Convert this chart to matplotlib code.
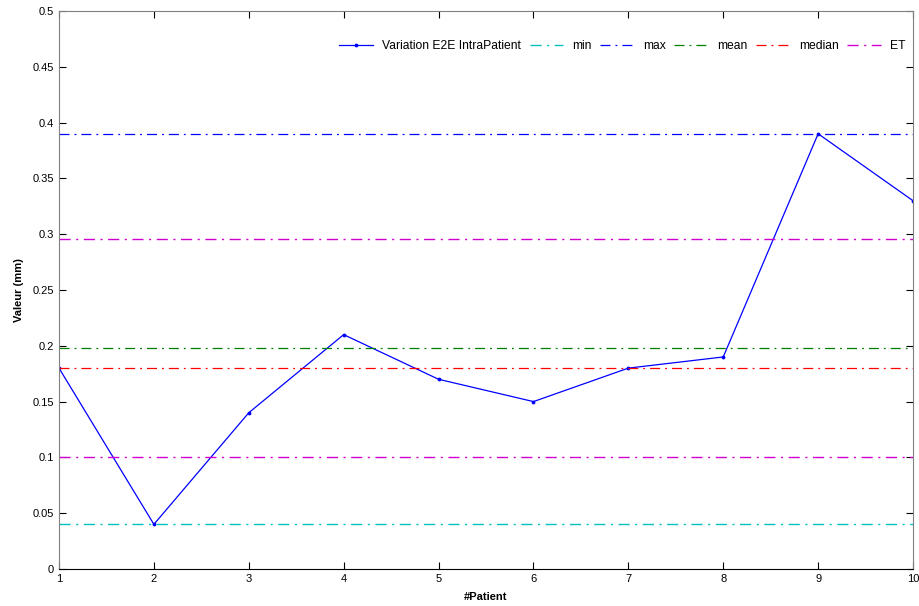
import matplotlib.pyplot as plt
import numpy as np

plt.rcParams['font.family'] = ['Liberation Sans', 'DejaVu Sans']

patients = [1, 2, 3, 4, 5, 6, 7, 8, 9, 10]
variation = [0.18, 0.04, 0.14, 0.21, 0.17, 0.15, 0.18, 0.19, 0.39, 0.33]

val_min = 0.04
val_max = 0.39
val_mean = 0.198
val_median = 0.18
val_et = [0.296, 0.100]

fig = plt.figure(figsize=(9.19, 6.06), dpi=100)
ax = fig.add_axes([0.0642, 0.0611, 0.9293, 0.9207])

ax.plot(patients, variation, '-', color='#0000ff', lw=0.9, marker='.', ms=3.5,
        label='Variation E2E IntraPatient')
dd = (0, (8, 4, 1.5, 4))
ax.axhline(val_min, color='#00c0c0', ls=dd, lw=1.0, label='min')
ax.axhline(val_max, color='#0000ff', ls=dd, lw=0.9, label='max')
ax.axhline(val_mean, color='#008000', ls=dd, lw=0.9, label='mean')
ax.axhline(val_median, color='#ff0000', ls=dd, lw=0.9, label='median')
for i, v in enumerate(val_et):
    ax.axhline(v, color='#d000d0', ls=dd, lw=1.0, label='ET' if i == 0 else None)

ax.set_xlim(1, 10)
ax.set_ylim(0, 0.5)
ax.set_xticks(patients)
ax.set_yticks(np.arange(0, 0.51, 0.05))
ax.set_yticklabels(['0', '0.05', '0.1', '0.15', '0.2', '0.25', '0.3', '0.35', '0.4', '0.45', '0.5'])
ax.tick_params(direction='in', labelsize=8, length=5, top=True, right=True)
for s in ax.spines.values():
    s.set_color('#808080')
    s.set_linewidth(0.8)
ax.spines['bottom'].set_color('black')

ax.set_xlabel('#Patient', fontsize=8, fontweight='bold', labelpad=6)
ax.set_ylabel('Valeur (mm)', fontsize=8, fontweight='bold', labelpad=6)

ax.legend(loc='upper right', ncol=6, frameon=False, fontsize=8.7,
          handlelength=2.8, columnspacing=0.7, handletextpad=0.75,
          bbox_to_anchor=(1.004, 0.967))

fig.savefig('out.png', dpi=100)
